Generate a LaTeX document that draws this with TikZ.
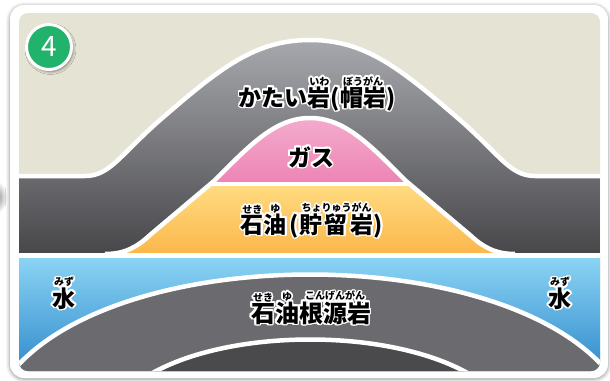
\documentclass[tikz,border=0pt]{standalone}
\usepackage{fontspec}
\newfontfamily\jp{Noto Sans CJK JP}
\usetikzlibrary{shadows.blur}

\definecolor{beige}{HTML}{E5E3D4}
\definecolor{capT}{HTML}{A7A8AD}
\definecolor{capB}{HTML}{47474A}
\definecolor{gasT}{HTML}{F4B0CF}
\definecolor{gasB}{HTML}{EE85B5}
\definecolor{oilT}{HTML}{FFDB80}
\definecolor{oilB}{HTML}{FBB64A}
\definecolor{waterT}{HTML}{8AD3F4}
\definecolor{waterB}{HTML}{2D88CA}
\definecolor{srcgray}{HTML}{6A6A6F}
\definecolor{deepgray}{HTML}{4A4A4D}
\definecolor{badge}{HTML}{21B26B}

% ruby: #2 centred above #1
\newcommand\rubyfont{\fontsize{10}{10}\selectfont}
\newcommand\rb[2]{\begingroup
  \setbox0=\hbox{#1}\setbox2=\hbox{\rubyfont #2}%
  \dimen0=\wd0 \ifdim\wd2>\dimen0 \dimen0=\wd2 \fi
  \hbox to \dimen0{\hss\vbox{\offinterlineskip
      \hbox to \dimen0{\hss\box2\hss}\kern0.5pt
      \hbox to \dimen0{\hss\box0\hss}}\hss}\endgroup}

% black lettering with a white halo
\newsavebox\olw \newsavebox\olb
\newcommand\olat[2]{\rlap{\hskip#1\raise#2\copy\olw}}
\newcommand\outl[1]{\sbox\olw{\color{white}#1}\sbox\olb{#1}%
  \leavevmode
  \olat{1.7pt}{0pt}\olat{-1.7pt}{0pt}\olat{0pt}{1.7pt}\olat{0pt}{-1.7pt}%
  \olat{1.2pt}{1.2pt}\olat{1.2pt}{-1.2pt}\olat{-1.2pt}{1.2pt}\olat{-1.2pt}{-1.2pt}%
  \olat{1.57pt}{0.65pt}\olat{0.65pt}{1.57pt}\olat{-1.57pt}{0.65pt}\olat{-0.65pt}{1.57pt}%
  \olat{1.57pt}{-0.65pt}\olat{0.65pt}{-1.57pt}\olat{-1.57pt}{-0.65pt}\olat{-0.65pt}{-1.57pt}%
  \usebox\olb}

% outline of the gas + oil trap
\newcommand\trappath{(105,254) .. controls (125,254) and (137,247) .. (150,235)
  -- (214,181) .. controls (250,145) and (275,118) .. (310,118)
  .. controls (345,118) and (370,145) .. (406,181)
  -- (470,235) .. controls (483,247) and (495,254) .. (515,254)}
% top of the cap rock layer
\newcommand\cappath{(10,176) -- (85,176) .. controls (110,176) and (120,155) .. (160,120)
  .. controls (220,68) and (255,40) .. (310,40)
  .. controls (365,40) and (400,68) .. (460,120)
  .. controls (500,155) and (510,176) .. (535,176) -- (610,176)}
\newcommand\outerarch{(12,372) .. controls (120,242) and (500,242) .. (608,372)}
\newcommand\innerarch{(126,392) .. controls (200,322) and (420,322) .. (494,392)}

\tikzset{
  sep/.style={draw=white, line width=4.5pt},
  lbl/.style={font=\jp\bfseries\fontsize{23}{23}\selectfont, inner sep=0pt, anchor=base},
}

\begin{document}
\begin{tikzpicture}[x=1pt, y=-1pt]
\useasboundingbox (0,0) rectangle (610,380);

% arrow from the previous step, peeking in at the left
\shade[inner color=gray!85, outer color=white] (-3,197) ellipse (10 and 16);

% white card
\fill[white, rounded corners=14pt,
  blur shadow={shadow xshift=0pt, shadow yshift=-1pt, shadow blur radius=4pt, shadow opacity=45}]
  (10,5) rectangle (608,378);

\begin{scope}
  \clip[rounded corners=9pt] (19,13) rectangle (600,371);
  \fill[beige] (10,5) rectangle (610,380);

  % cap rock band
  \shade[top color=capT, bottom color=capB] \cappath -- (610,254) -- (10,254) -- cycle;
  \draw[sep] \cappath;

  % gas and oil
  \begin{scope}
    \clip \trappath -- cycle;
    \shade[top color=gasT, bottom color=gasB] (100,110) rectangle (520,181.5);
    \shade[top color=oilT, bottom color=oilB] (100,185.5) rectangle (520,256);
    \fill[white] (100,181.5) rectangle (520,185.5);
  \end{scope}
  \draw[sep] \trappath;

  % water layer
  \fill[white] (10,253) rectangle (610,258.5);
  \shade[top color=waterT, bottom color=waterB] (10,258.5) rectangle (610,376);

  % source rock arches
  \fill[srcgray] \outerarch -- (608,380) -- (12,380) -- cycle;
  \draw[sep] \outerarch;
  \fill[deepgray] \innerarch -- cycle;
  \draw[sep] \innerarch;
\end{scope}

% step badge
\node[circle, fill=badge, draw=white, line width=3pt, minimum size=45pt, inner sep=0pt,
  blur shadow={shadow xshift=1.5pt, shadow yshift=-2pt, shadow blur radius=3pt, shadow opacity=50},
  font=\jp\fontsize{28}{28}\selectfont, text=white] (badge) at (49,47) {4};

% labels
\node[lbl] (cap) at (317,106) {\outl{かたい\rb{岩}{いわ}(\rb{帽岩}{ぼうがん})}};
\node[lbl] (gas) at (311,166) {\outl{ガス}};
\node[lbl] (oil) at (312,233) {\outl{\rb{石}{せき}\rb{油}{ゆ}\kern3pt(\rb{貯\kern3pt留\kern3pt岩}{ちょりゅうがん})}};
\node[lbl, font=\jp\bfseries\fontsize{24}{24}\selectfont] (src) at (311,322) {\outl{\rb{石}{せき}\rb{油}{ゆ}\rb{根源岩}{こんげんがん}}};
\node[lbl] (wl) at (64,307) {\outl{\rb{水}{みず}}};
\node[lbl] (wr) at (560,307) {\outl{\rb{水}{みず}}};
\end{tikzpicture}
\end{document}
